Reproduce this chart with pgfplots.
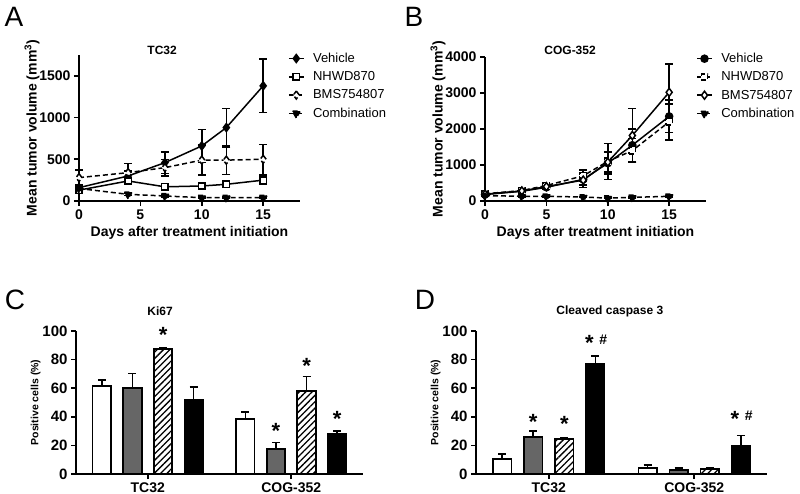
\documentclass[border=0pt]{standalone}
\usepackage{fontspec}
\setmainfont{Liberation Sans}
\usepackage{pgfplots}
\pgfplotsset{compat=1.18}
\usetikzlibrary{patterns,patterns.meta}

\pgfplotsset{
  gp/.style={
    scale only axis, clip=false,
    axis lines=left, axis line style={-, line width=1.8pt},
    tick align=outside, major tick length=5pt,
    tick style={line width=1.6pt, black},
    /pgf/number format/assume math mode=true,
    /pgf/number format/1000 sep={},
    tick label style={font=\bfseries\fontsize{14}{14}\selectfont},
    label style={font=\bfseries\fontsize{14}{16}\selectfont},
    title style={font=\bfseries\fontsize{12}{14}\selectfont, anchor=center, yshift=-6pt},
    ylabel shift=-7pt,
  },
  lg/.style={
    legend style={draw=none, fill=none, at={#1}, anchor=north west,
      font=\fontsize{13}{15}\selectfont, row sep=4.6pt, inner sep=0pt,
      nodes={inner sep=1.5pt},
      /tikz/every odd column/.append style={column sep=7pt}},
    legend cell align=left,
    legend image code/.code={\draw[mark repeat=2, mark phase=2, ##1]
      plot coordinates {(0pt,0pt) (7.5pt,0pt) (15pt,0pt)};},
  },
  ln/.style={black, line width=1.5pt, mark options={solid},
    error bars/y dir=both, error bars/y explicit,
    error bars/error bar style={solid, line width=1.5pt},
    error bars/error mark options={rotate=90, mark size=4pt, line width=1.5pt}},
  dsh/.style={dash pattern=on 5pt off 3pt},
  bb/.style={
    ybar, bar width=18.5pt, bar shift=0pt,
    xmin=0.5, xmax=2.5, ymin=0, ymax=100,
    xtick={1,2}, xticklabels={TC32,COG-352},
    ytick={0,20,40,60,80,100},
    x tick label style={font=\bfseries\fontsize{14}{14}\selectfont},
    y tick label style={font=\bfseries\fontsize{15}{15}\selectfont},
    ylabel={Positive cells (\%)},
    ylabel style={font=\bfseries\fontsize{10.5}{12}\selectfont},
    ylabel shift=-5pt,
  },
  br/.style={draw=black, line width=1.8pt,
    error bars/y dir=plus, error bars/y explicit,
    error bars/error bar style={line width=1.6pt},
    error bars/error mark options={rotate=90, mark size=4pt, line width=1.6pt}},
  hatch/.style={pattern={Lines[angle=45, distance=4.5pt, line width=1.3pt]}},
}

\begin{document}
\begin{tikzpicture}
\path[use as bounding box] (0pt,0pt) rectangle (800pt,-494pt);

% panel A
\begin{axis}[gp, at={(79pt,-201pt)}, anchor=south west,
  width=221pt, height=146pt,
  xmin=0, xmax=18, ymin=0, ymax=1750,
  xtick={0,5,10,15}, ytick={0,500,1000,1500},
  xlabel={Days after treatment initiation},
  ylabel={Mean tumor volume (mm\textsuperscript{3})},
  title={TC32}, title style={at={(axis description cs:0.376,1.034)}},
  lg={(axis description cs:0.945,1.025)}]
\addplot[ln, mark=diamond*, mark size=4pt] coordinates {
  (0,160) +- (0,40) (4,300) +- (0,60) (7,460) +- (0,130)
  (10,660) +- (0,200) (12,880) +- (0,230) (15,1380) +- (0,320)};
\addlegendentry{Vehicle}
\addplot[ln, mark=square*, mark size=3.2pt, mark options={fill=white}] coordinates {
  (0,130) +- (0,20) (4,240) +- (0,30) (7,170) +- (0,20)
  (10,180) +- (0,20) (12,200) +- (0,25) (15,250) +- (0,50)};
\addlegendentry{NHWD870}
\addplot[ln, dsh, mark=diamond*, mark size=4pt, mark options={fill=white}] coordinates {
  (0,280) +- (0,90) (4,340) +- (0,110) (7,400) +- (0,100)
  (10,490) +- (0,180) (12,490) +- (0,170) (15,500) +- (0,180)};
\addlegendentry{BMS754807}
\addplot[ln, dsh, mark=triangle*, mark size=4.5pt, mark options={rotate=180}] coordinates {
  (0,150) +- (0,20) (4,80) +- (0,15) (7,60) +- (0,10)
  (10,40) +- (0,5) (12,40) +- (0,5) (15,40) +- (0,5)};
\addlegendentry{Combination}
\end{axis}

% panel B
\begin{axis}[gp, at={(485pt,-201pt)}, anchor=south west,
  width=221pt, height=144pt,
  xmin=0, xmax=18, ymin=0, ymax=4000,
  xtick={0,5,10,15}, ytick={0,1000,2000,3000,4000},
  xlabel={Days after treatment initiation},
  ylabel={Mean tumor volume (mm\textsuperscript{3})},
  title={COG-352}, title style={at={(axis description cs:0.385,1.049)}},
  lg={(axis description cs:0.955,1.038)}]
\addplot[ln, mark=*, mark size=3.5pt] coordinates {
  (0,180) +- (0,30) (3,270) +- (0,30) (5,380) +- (0,40) (8,600) +- (0,150)
  (10,1050) +- (0,300) (12,1550) +- (0,450) (15,2350) +- (0,450)};
\addlegendentry{Vehicle}
\addplot[ln, dsh, mark=square*, mark size=3.2pt, mark options={fill=white}] coordinates {
  (0,200) +- (0,40) (3,290) +- (0,40) (5,430) +- (0,50) (8,700) +- (0,160)
  (10,1100) +- (0,500) (12,1400) +- (0,330) (15,2200) +- (0,500)};
\addlegendentry{NHWD870}
\addplot[ln, mark=diamond*, mark size=4pt, mark options={fill=white}] coordinates {
  (0,190) +- (0,30) (3,280) +- (0,30) (5,400) +- (0,40) (8,580) +- (0,200)
  (10,1080) +- (0,280) (12,1820) +- (0,750) (15,3020) +- (0,780)};
\addlegendentry{BMS754807}
\addplot[ln, dsh, mark=triangle*, mark size=4.5pt, mark options={rotate=180}] coordinates {
  (0,150) +- (0,20) (3,130) +- (0,20) (5,130) +- (0,20) (8,110) +- (0,15)
  (10,80) +- (0,10) (12,100) +- (0,15) (15,130) +- (0,20)};
\addlegendentry{Combination}
\end{axis}

% panel C
\begin{axis}[gp, bb, at={(76pt,-474pt)}, anchor=south west,
  width=287pt, height=143pt,
  title={Ki67}, title style={at={(axis description cs:0.293,1.14)}}]
\addplot[br, fill=white] coordinates {
  (0.68,61.5) +- (0,4.2) (1.68,38.7) +- (0,4.5)};
\addplot[br, fill=black!60] coordinates {
  (0.893,60.4) +- (0,10) (1.893,17.5) +- (0,4.5)};
\addplot[br, hatch] coordinates {
  (1.107,87.2) +- (0,1.4) (2.107,58.3) +- (0,10)};
\addplot[br, fill=black] coordinates {
  (1.32,51.5) +- (0,9.5) (2.32,27.7) +- (0,2.3)};
\node[anchor=north, inner sep=0pt, font=\bfseries\fontsize{22}{22}\selectfont] at (axis cs:1.107,103) {*};
\node[anchor=north, inner sep=0pt, font=\bfseries\fontsize{22}{22}\selectfont] at (axis cs:1.893,35.4) {*};
\node[anchor=north, inner sep=0pt, font=\bfseries\fontsize{22}{22}\selectfont] at (axis cs:2.107,80.9) {*};
\node[anchor=north, inner sep=0pt, font=\bfseries\fontsize{22}{22}\selectfont] at (axis cs:2.32,44) {*};
\end{axis}

% panel D
\begin{axis}[gp, bb, at={(476pt,-474pt)}, anchor=south west,
  width=291pt, height=143pt,
  title={Cleaved caspase 3}, title style={at={(axis description cs:0.46,1.14)}}]
\addplot[br, fill=white] coordinates {
  (0.68,10.5) +- (0,3.5) (1.68,4.2) +- (0,2.1)};
\addplot[br, fill=black!60] coordinates {
  (0.893,25.6) +- (0,4.4) (1.893,3) +- (0,1.2)};
\addplot[br, hatch] coordinates {
  (1.107,24.2) +- (0,1.4) (2.107,3.5) +- (0,0.5)};
\addplot[br, fill=black] coordinates {
  (1.32,77.2) +- (0,5.5) (2.32,20) +- (0,6.8)};
\node[anchor=north, inner sep=0pt, font=\bfseries\fontsize{22}{22}\selectfont] at (axis cs:0.893,41.7) {*};
\node[anchor=north, inner sep=0pt, font=\bfseries\fontsize{22}{22}\selectfont] at (axis cs:1.107,40.1) {*};
\node[anchor=north, inner sep=0pt, font=\bfseries\fontsize{22}{22}\selectfont, xshift=-6pt] at (axis cs:1.32,97.2) {*};
\node[anchor=north, inner sep=0pt, font=\bfseries\fontsize{14}{14}\selectfont, xshift=8pt] at (axis cs:1.32,97.2) {\#};
\node[anchor=north, inner sep=0pt, font=\bfseries\fontsize{22}{22}\selectfont, xshift=-6pt] at (axis cs:2.32,44) {*};
\node[anchor=north, inner sep=0pt, font=\bfseries\fontsize{14}{14}\selectfont, xshift=8pt] at (axis cs:2.32,44) {\#};
\end{axis}

% panel letters
\node[font=\fontsize{28}{28}\selectfont] at (14pt,-17pt) {A};
\node[font=\fontsize{28}{28}\selectfont] at (414pt,-17pt) {B};
\node[font=\fontsize{28}{28}\selectfont] at (15pt,-300pt) {C};
\node[font=\fontsize{28}{28}\selectfont] at (425pt,-300pt) {D};
\end{tikzpicture}
\end{document}
